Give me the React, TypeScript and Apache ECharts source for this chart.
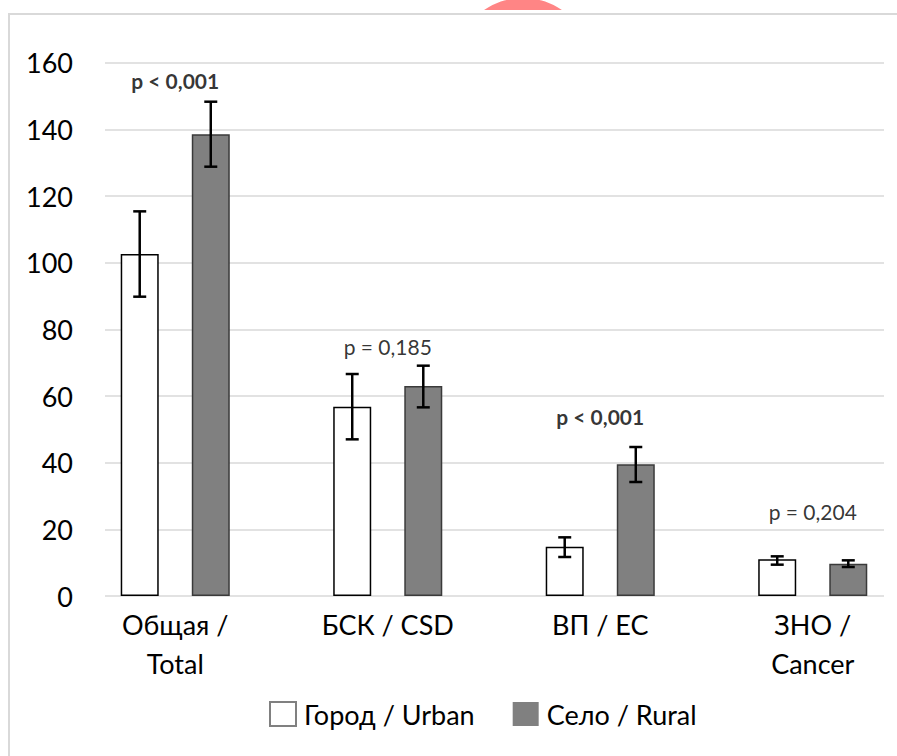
import React, { useEffect, useRef } from "react";
import * as echarts from "echarts";

const categories = ["Общая /\nTotal", "БСК / CSD", "ВП / EC", "ЗНО /\nCancer"];
const seriesNames = ["Город / Urban", "Село / Rural"];
const urbanMean = [102.6, 56.8, 14.8, 11.0];
const urbanLow = [89.8, 47.0, 11.7, 9.4];
const urbanHigh = [115.4, 66.6, 17.6, 11.9];
const ruralMean = [138.5, 63.0, 39.5, 9.7];
const ruralLow = [128.8, 56.6, 34.2, 8.7];
const ruralHigh = [148.3, 69.1, 44.7, 10.7];
const pTexts = ["p < 0,001", "p = 0,185", "p < 0,001", "p = 0,204"];
const pBold = [true, false, true, false];
const pLabelY = [154.8, 75.0, 53.8, 25.3];
const yTicks = { min: 0, max: 160, interval: 20 };

const FONT = "Lato";
const BAR_W = 38;
const BAR_GAP = "87%";

function errorSeries(low: number[], high: number[], idx: number) {
  return {
    type: "custom",
    xAxisIndex: 1,
    yAxisIndex: 1,
    z: 5,
    silent: true,
    data: low.map((l, i) => [i, l, high[i]]),
    renderItem: (params: any, api: any) => {
      const cat = api.value(0);
      const lo = api.coord([cat, api.value(1)]);
      const hi = api.coord([cat, api.value(2)]);
      const w = BAR_W;
      const gap = w * 0.87;
      const total = w * 2 + gap;
      const offset = -total / 2 + idx * (w + gap) + w / 2;
      const x = lo[0] + offset;
      const half = 6.5;
      const style = { stroke: "#000", lineWidth: 2.5 };
      return {
        type: "group",
        children: [
          { type: "line", shape: { x1: x, y1: lo[1], x2: x, y2: hi[1] }, style },
          { type: "line", shape: { x1: x - half, y1: lo[1], x2: x + half, y2: lo[1] }, style },
          { type: "line", shape: { x1: x - half, y1: hi[1], x2: x + half, y2: hi[1] }, style },
        ],
      };
    },
  };
}

export default function App() {
  const ref = useRef<HTMLDivElement>(null);
  useEffect(() => {
    if (!ref.current) return;
    const chart = echarts.init(ref.current, null, { renderer: "svg" });
    const grid0 = { left: 105, width: 779, top: 62.7, bottom: 160 };
    const grid1 = { left: 69, width: 850, top: 62.7, bottom: 160 };
    chart.setOption({
      animation: false,
      backgroundColor: "#fff",
      textStyle: { fontFamily: FONT },
      graphic: [
        { type: "circle", z: -3, shape: { cx: 523, cy: 67, r: 69 }, style: { fill: "#ff8585" }, silent: true },
        { type: "rect", z: -2, shape: { x: 0, y: 10, width: 960, height: 746 }, style: { fill: "#fff" }, silent: true },
        {
          type: "rect",
          z: -1,
          shape: { x: 9, y: 14, width: 940, height: 800 },
          style: { fill: "none", stroke: "#d9d9d9", lineWidth: 2 },
          silent: true,
        },
      ],
      grid: [grid0, grid1],
      xAxis: [
        { type: "value", gridIndex: 0, show: false, min: 0, max: 1 },
        {
          type: "category",
          gridIndex: 1,
          data: categories,
          axisLine: { show: false },
          axisTick: { show: false },
          splitLine: { show: false },
          axisLabel: {
            fontFamily: FONT,
            fontSize: 27,
            lineHeight: 39,
            color: "#000",
            margin: 9,
            interval: 0,
          },
        },
      ],
      yAxis: [
        {
          type: "value",
          gridIndex: 0,
          min: yTicks.min,
          max: yTicks.max,
          interval: yTicks.interval,
          axisLine: { show: false },
          axisTick: { show: false },
          splitLine: { lineStyle: { color: "#d9d9d9", width: 1.5 } },
          axisLabel: { fontFamily: FONT, fontSize: 27, color: "#000", margin: 32 },
        },
        {
          type: "value",
          gridIndex: 1,
          min: yTicks.min,
          max: yTicks.max,
          interval: yTicks.interval,
          show: false,
          splitLine: { show: false },
        },
      ],
      legend: {
        left: 269,
        top: 699,
        padding: 0,
        itemWidth: 26,
        itemHeight: 24,
        itemGap: 38,
        icon: "rect",
        textStyle: { fontFamily: FONT, fontSize: 27, color: "#000", lineHeight: 30, padding: [0, 0, 0, 3] },
        data: [
          { name: seriesNames[0], itemStyle: { color: "#fff", borderColor: "#808080", borderWidth: 2 } },
          { name: seriesNames[1], itemStyle: { color: "#808080", borderColor: "#808080", borderWidth: 0 } },
        ],
      },
      series: [
        {
          name: seriesNames[0],
          type: "bar",
          xAxisIndex: 1,
          yAxisIndex: 1,
          barWidth: BAR_W,
          barGap: BAR_GAP,
          data: urbanMean,
          itemStyle: { color: "#fff", borderColor: "#000", borderWidth: 1.5 },
        },
        {
          name: seriesNames[1],
          type: "bar",
          xAxisIndex: 1,
          yAxisIndex: 1,
          barWidth: BAR_W,
          barGap: BAR_GAP,
          data: ruralMean,
          itemStyle: { color: "#808080", borderColor: "#3a3a3a", borderWidth: 1.5 },
        },
        errorSeries(urbanLow, urbanHigh, 0),
        errorSeries(ruralLow, ruralHigh, 1),
        {
          type: "scatter",
          xAxisIndex: 1,
          yAxisIndex: 1,
          symbolSize: 0,
          silent: true,
          z: 6,
          data: pLabelY.map((v, i) => ({
            value: [i, v],
            label: {
              show: true,
              position: "inside",
              formatter: pTexts[i],
              fontFamily: FONT,
              fontSize: 21,
              fontWeight: pBold[i] ? "bold" : "normal",
              color: "#000",
            },
          })),
        },
      ],
    });
    return () => chart.dispose();
  }, []);
  return (
    <div style={{ position: "absolute", left: 0, top: 0, width: 897, height: 756, overflow: "hidden" }}>
      <div ref={ref} style={{ width: 960, height: 756 }} />
    </div>
  );
}
